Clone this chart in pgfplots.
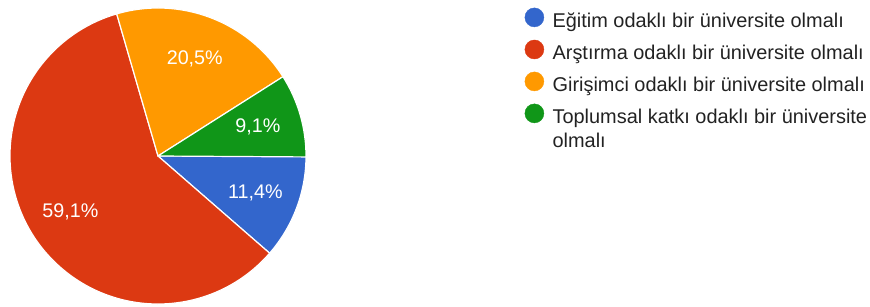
\documentclass[border=0pt]{standalone}
\usepackage{pgfplots}
\pgfplotsset{compat=1.18}
\usepackage{pgfplotstable}
\usepackage{fontspec}
\setmainfont{Liberation Sans}
\definecolor{gblue}{HTML}{3366CC}
\definecolor{gred}{HTML}{DC3912}
\definecolor{gorange}{HTML}{FF9900}
\definecolor{ggreen}{HTML}{109618}
\definecolor{legtext}{HTML}{222222}
\newcommand\pielabel{\fontsize{19.8}{22}\selectfont}
\pgfplotstableread{
pct   col
11.4  gblue
59.1  gred
20.5  gorange
9.1   ggreen
}\piedata
\begin{document}
\begin{tikzpicture}
\begin{axis}[
  width=870bp, height=306bp, scale only axis,
  xmin=0, xmax=870, ymin=0, ymax=306,
  hide axis, clip=false,
  legend cell align=left,
  legend style={at={(axis cs:524.5,298.5)}, anchor=north west, draw=none, fill=none,
    inner sep=0pt, row sep=10bp,
    font=\fontsize{20}{24.5}\selectfont\color{legtext},
    nodes={align=left, inner sep=1bp}},
  legend image code/.code={\fill[#1] (9.5bp,0.33em) circle (9.5bp); \path (26.5bp,0.33em);},
]
\def\startangle{0}
\pgfplotsforeachungrouped \i in {0,...,3}{%
  \pgfplotstablegetelem{\i}{pct}\of\piedata \let\p\pgfplotsretval
  \pgfplotstablegetelem{\i}{col}\of\piedata \let\c\pgfplotsretval
  \pgfmathsetmacro\endangle{\startangle-3.6*\p}%
  \pgfmathsetmacro\midangle{(\startangle+\endangle)/2}%
  \edef\temp{%
    \noexpand\fill[\c, draw=white, line width=1.2bp, line join=round]
      (axis cs:158,150) -- ++(\startangle:148bp)
      arc[start angle=\startangle, end angle=\endangle, radius=148bp] -- cycle;
    \noexpand\node[text=white, font=\noexpand\pielabel]
      at ([shift={(\midangle:104bp)}]axis cs:158,150)
      {\noexpand\pgfmathprintnumber[fixed, precision=1, fixed zerofill, use comma, assume math mode=true]{\p}\noexpand\%};
  }%
  \temp
  \global\let\startangle\endangle
}
\addlegendimage{gblue}
\addlegendentry{Eğitim odaklı bir üniversite olmalı}
\addlegendimage{gred}
\addlegendentry{Arştırma odaklı bir üniversite olmalı}
\addlegendimage{gorange}
\addlegendentry{Girişimci odaklı bir üniversite olmalı}
\addlegendimage{legend image code/.code={\fill[ggreen] (9.5bp,0.33em+12.25bp) circle (9.5bp); \path (26.5bp,0.33em);}}
\addlegendentry{Toplumsal katkı odaklı bir üniversite\\olmalı}
\end{axis}
\pgfresetboundingbox
\path[use as bounding box] (current axis.south west) rectangle (current axis.north east);
\end{tikzpicture}
\end{document}
